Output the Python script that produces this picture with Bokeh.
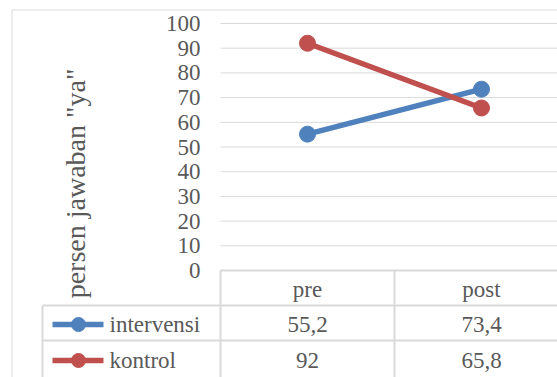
import math
from bokeh.plotting import figure
from bokeh.models import Range1d, ColumnDataSource
from bokeh.core.properties import value
from bokeh.embed import file_html
from bokeh.resources import INLINE

# ---- data ----
categories = ["pre", "post"]
series_names = ["intervensi", "kontrol"]
intervensi = [55.2, 73.4]
kontrol = [92, 65.8]
series_values = [intervensi, kontrol]
series_colors = ["#4F81BD", "#C0504D"]
y_ticks = [0, 10, 20, 30, 40, 50, 60, 70, 80, 90, 100]
y_title = 'persen jawaban "ya"'

# ---- layout constants (pixels) ----
W, H = 557, 377
X0 = 220.0      # left edge of plot area
COL = 174.0     # width of one category column
Y0 = 270.0      # pixel row of value 0
PPU = 2.47      # pixels per value unit

def dx(px):
    return (px - X0) / COL

def dy(py):
    return (Y0 - py) / PPU

FONT = value("Liberation Serif")
TXT = "#595959"
GRID = "#d9d9d9"

p = figure(width=W, height=H, output_backend="svg", toolbar_location=None,
           x_range=Range1d(dx(0), dx(W)), y_range=Range1d(dy(H), dy(0)),
           x_axis_type=None, y_axis_type=None, min_border=0,
           background_fill_color="white", border_fill_color="white")
p.outline_line_color = None
p.grid.visible = False

xr_end = dx(W + 20)

# chart area border (left and top)
p.segment(x0=[dx(11.5), dx(11.5)], y0=[dy(9.5), dy(9.5)],
          x1=[xr_end, dx(11.5)], y1=[dy(9.5), dy(H + 20)],
          line_color=GRID, line_width=1)

# gridlines
gt = [t for t in y_ticks if t > 0]
p.segment(x0=[0] * len(gt), y0=gt, x1=[xr_end] * len(gt), y1=gt,
          line_color=GRID, line_width=1)

# tick labels
p.text(x=[0] * len(y_ticks), y=y_ticks, text=[str(t) for t in y_ticks],
       x_offset=-20, text_align="right", text_baseline="middle",
       text_font=FONT, text_font_size="23px", text_color=TXT)

# axis title
p.text(x=[dx(75)], y=[dy(183)], text=[y_title], angle=math.pi / 2,
       text_align="center", text_baseline="middle",
       text_font=FONT, text_font_size="28px", text_color=TXT)

# data table lines
hx0 = [0, dx(42), dx(42)]
hy = [0, dy(305), dy(340)]
p.segment(x0=hx0, y0=hy, x1=[xr_end] * 3, y1=hy, line_color=GRID, line_width=2)
vx = [dx(42), 0, 1]
vy0 = [dy(305), 0, 0]
p.segment(x0=vx, y0=vy0, x1=vx, y1=[dy(H + 20)] * 3, line_color=GRID, line_width=2)

xs = [i + 0.5 for i in range(len(categories))]

# category header
p.text(x=xs, y=[dy(289)] * len(xs), text=categories, text_align="center",
       text_baseline="middle", text_font=FONT, text_font_size="23px", text_color=TXT)

row_py = [324, 360]

def fmt(v):
    return f"{v:g}".replace(".", ",")

# series lines and markers
for vals, col in zip(series_values, series_colors):
    p.line(x=xs, y=vals, line_color=col, line_width=5.5)
for vals, col in zip(series_values, series_colors):
    p.scatter(x=xs, y=vals, size=16, fill_color=col, line_color=col, line_width=1)

# table rows
for name, vals, col, py in zip(series_names, series_values, series_colors, row_py):
    p.segment(x0=[dx(52)], y0=[dy(py)], x1=[dx(103)], y1=[dy(py)],
              line_color=col, line_width=5.5)
    p.scatter(x=[dx(78)], y=[dy(py)], size=14, fill_color=col, line_color=col)
    p.text(x=[dx(109)], y=[dy(py)], text=[name], text_align="left",
           text_baseline="middle", text_font=FONT, text_font_size="23px", text_color=TXT)
    p.text(x=xs, y=[dy(py)] * len(xs), text=[fmt(v) for v in vals], text_align="center",
           text_baseline="middle", text_font=FONT, text_font_size="23px", text_color=TXT)

open("out.html", "w").write(file_html(p, INLINE))
